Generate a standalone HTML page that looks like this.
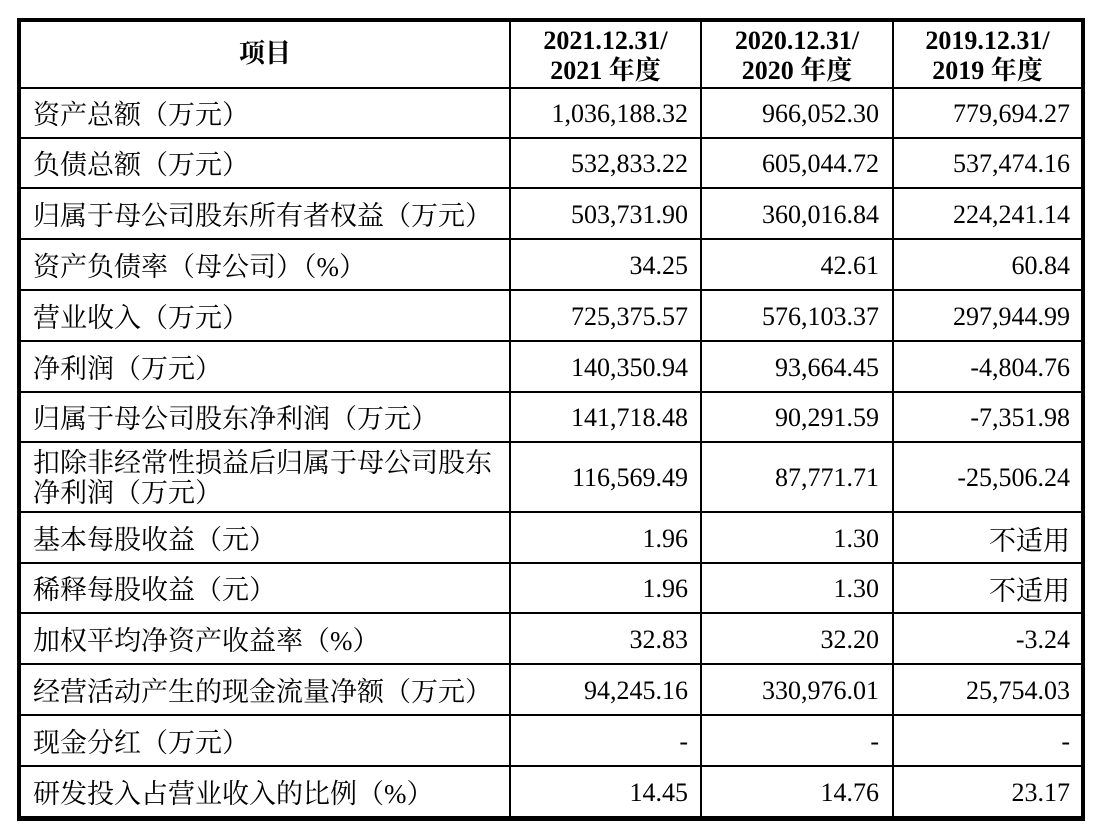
<!DOCTYPE html>
<html><head><meta charset="utf-8"><style>
body{margin:0;width:1104px;height:836px;background:#fff;position:relative;overflow:hidden;font-family:"Liberation Serif","Noto Serif CJK SC",serif;color:#000}
.l{position:absolute;background:#000}
.t{position:absolute;font-size:27px;line-height:28px;white-space:nowrap;font-family:"Liberation Serif","Noto Serif CJK SC",serif}
.r{text-align:right;font-size:26px;font-family:"Liberation Serif",serif}
.b{font-weight:bold;text-align:center;font-size:26px}
</style></head><body>
<div class="l" style="left:17px;top:18px;width:1068px;height:4px"></div>
<div class="l" style="left:17px;top:816px;width:1068px;height:5px"></div>
<div class="l" style="left:17px;top:18px;width:4px;height:803px"></div>
<div class="l" style="left:1081px;top:18px;width:4px;height:803px"></div>
<div class="l" style="left:509px;top:18px;width:2px;height:800px"></div>
<div class="l" style="left:700px;top:18px;width:2px;height:800px"></div>
<div class="l" style="left:892px;top:18px;width:2px;height:800px"></div>
<div id="h"></div>
<div class="t b" style="left:21px;width:488px;top:40px">项目</div>
<div class="t b" style="left:511px;width:189px;top:26px;line-height:30px">2021.12.31/<br>2021 年度</div>
<div class="t b" style="left:702px;width:190px;top:26px;line-height:30px">2020.12.31/<br>2020 年度</div>
<div class="t b" style="left:894px;width:187px;top:26px;line-height:30px">2019.12.31/<br>2019 年度</div>
<script>
var ys=[88,138,188,239,290,341,392,442,512,563,613,664,715,766,817];
var rows=[
["资产总额（万元）","1,036,188.32","966,052.30","779,694.27"],
["负债总额（万元）","532,833.22","605,044.72","537,474.16"],
["归属于母公司股东所有者权益（万元）","503,731.90","360,016.84","224,241.14"],
["资产负债率（母公司）（%）","34.25","42.61","60.84"],
["营业收入（万元）","725,375.57","576,103.37","297,944.99"],
["净利润（万元）","140,350.94","93,664.45","-4,804.76"],
["归属于母公司股东净利润（万元）","141,718.48","90,291.59","-7,351.98"],
["扣除非经常性损益后归属于母公司股东<br>净利润（万元）","116,569.49","87,771.71","-25,506.24"],
["基本每股收益（元）","1.96","1.30","不适用"],
["稀释每股收益（元）","1.96","1.30","不适用"],
["加权平均净资产收益率（%）","32.83","32.20","-3.24"],
["经营活动产生的现金流量净额（万元）","94,245.16","330,976.01","25,754.03"],
["现金分红（万元）","-","-","-"],
["研发投入占营业收入的比例（%）","14.45","14.76","23.17"]];
var h="";
for(var i=0;i<14;i++){
 h+='<div class="l" style="left:17px;top:'+(ys[i]-1)+'px;width:1068px;height:2px"></div>';
 var mid=(ys[i]+ys[i+1])/2, two=rows[i][0].indexOf("<br>")>=0;
 var ty=two?mid-29:mid-12;
 h+='<div class="t" style="left:33px;top:'+ty+'px;line-height:'+(two?30:28)+'px">'+rows[i][0]+'</div>';
 var rs=[688,879,1070];
 for(var j=1;j<4;j++){
  var cjk=/[^\x00-\x7f]/.test(rows[i][j]);
  h+='<div class="t r" style="right:'+(1104-rs[j-1])+'px;top:'+(mid-13)+'px'+(cjk?';font-size:27px;font-family:\'Noto Serif CJK SC\',serif':'')+'">'+rows[i][j]+'</div>';
 }
}
document.getElementById("h").innerHTML=h;
</script>
</body></html>
